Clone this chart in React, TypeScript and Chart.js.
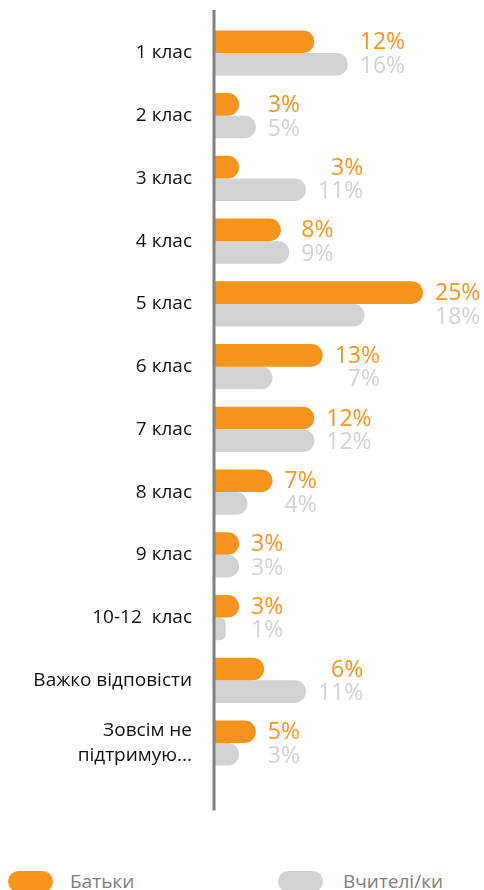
import React, { useEffect, useRef } from "react";
import { Chart, registerables } from "chart.js";

Chart.register(...registerables);

const categories: (string | string[])[] = [
  "1 клас",
  "2 клас",
  "3 клас",
  "4 клас",
  "5 клас",
  "6 клас",
  "7 клас",
  "8 клас",
  "9 клас",
  "10-12  клас",
  "Важко відповісти",
  ["Зовсім не", "підтримую..."],
];

const parents = [12, 3, 3, 8, 25, 13, 12, 7, 3, 3, 6, 5];
const teachers = [16, 5, 11, 9, 18, 7, 12, 4, 3, 1.4, 11, 3];

const parentsLabel = "Батьки";
const teachersLabel = "Вчителі/ки";

const ORANGE = "#F7941D";
const GRAY = "#D1D3D4";
const FONT = "'Open Sans', Lato, sans-serif";

const valueLabelsPlugin = {
  id: "valueLabels",
  afterDatasetsDraw(chart: any) {
    const ctx = chart.ctx;
    const m0 = chart.getDatasetMeta(0);
    const m1 = chart.getDatasetMeta(1);
    ctx.save();
    ctx.font = `23px ${FONT}`;
    ctx.textBaseline = "middle";
    ctx.textAlign = "right";
    for (let i = 0; i < categories.length; i++) {
      const b0 = m0.data[i];
      const b1 = m1.data[i];
      const t0 = Math.round(parents[i]) + "%";
      const t1 = Math.round(teachers[i]) + "%";
      const w = Math.max(ctx.measureText(t0).width, ctx.measureText(t1).width);
      const right = Math.max(b0.x, b1.x) + 12 + w;
      ctx.fillStyle = ORANGE;
      ctx.fillText(t0, right, b0.y + 1);
      ctx.fillStyle = GRAY;
      ctx.fillText(t1, right, b1.y + 2);
    }
    ctx.restore();
  },
};

const axisLinePlugin = {
  id: "axisLine",
  afterDatasetsDraw(chart: any) {
    const { ctx, chartArea } = chart;
    ctx.save();
    ctx.strokeStyle = "#808080";
    ctx.lineWidth = 3;
    ctx.beginPath();
    ctx.moveTo(chartArea.left, chartArea.top - 11.6);
    ctx.lineTo(chartArea.left, chartArea.bottom + 36);
    ctx.stroke();
    ctx.restore();
  },
};

export default function App() {
  const ref = useRef<HTMLCanvasElement>(null);

  useEffect(() => {
    document.body.style.margin = "0";
    const chart = new Chart(ref.current!, {
      type: "bar",
      data: {
        labels: categories,
        datasets: [
          {
            label: parentsLabel,
            data: parents,
            backgroundColor: ORANGE,
            borderRadius: 12,
            borderSkipped: "start",
            categoryPercentage: 0.72,
            barPercentage: 1,
          },
          {
            label: teachersLabel,
            data: teachers,
            backgroundColor: GRAY,
            borderRadius: 12,
            borderSkipped: "start",
            categoryPercentage: 0.72,
            barPercentage: 1,
          },
        ],
      },
      options: {
        indexAxis: "y",
        animation: false,
        responsive: false,
        maintainAspectRatio: false,
        layout: { padding: { top: 21.6, bottom: 85.6, right: 19.2, left: 0 } },
        plugins: {
          legend: { display: false },
          tooltip: { enabled: false },
        },
        scales: {
          x: { display: false, min: 0, max: 30 },
          y: {
            grid: { display: false, drawTicks: false },
            border: { display: false },
            ticks: {
              color: "#111111",
              padding: 22,
              font: { family: FONT, size: 19, lineHeight: 1.32 },
            },
            afterFit(scale: any) {
              scale.width = 214;
              scale.paddingTop = 0;
              scale.paddingBottom = 0;
            },
          },
        },
      },
      plugins: [valueLabelsPlugin, axisLinePlugin],
    });
    return () => chart.destroy();
  }, []);

  const legendText: React.CSSProperties = {
    position: "absolute",
    top: 870,
    fontFamily: FONT,
    fontSize: 19,
    lineHeight: "22px",
    color: "#7F7F7F",
    whiteSpace: "nowrap",
  };
  const pill = (left: number, color: string): React.CSSProperties => ({
    position: "absolute",
    top: 871,
    left,
    width: 45,
    height: 21,
    borderRadius: 10.5,
    background: color,
  });

  return (
    <div style={{ position: "relative", width: 484, height: 890, overflow: "hidden" }}>
      <canvas ref={ref} width={484} height={860} style={{ position: "absolute", left: 0, top: 0 }} />
      <div style={pill(8, ORANGE)} />
      <div style={{ ...legendText, left: 70 }}>{parentsLabel}</div>
      <div style={pill(278, GRAY)} />
      <div style={{ ...legendText, left: 343 }}>{teachersLabel}</div>
    </div>
  );
}
